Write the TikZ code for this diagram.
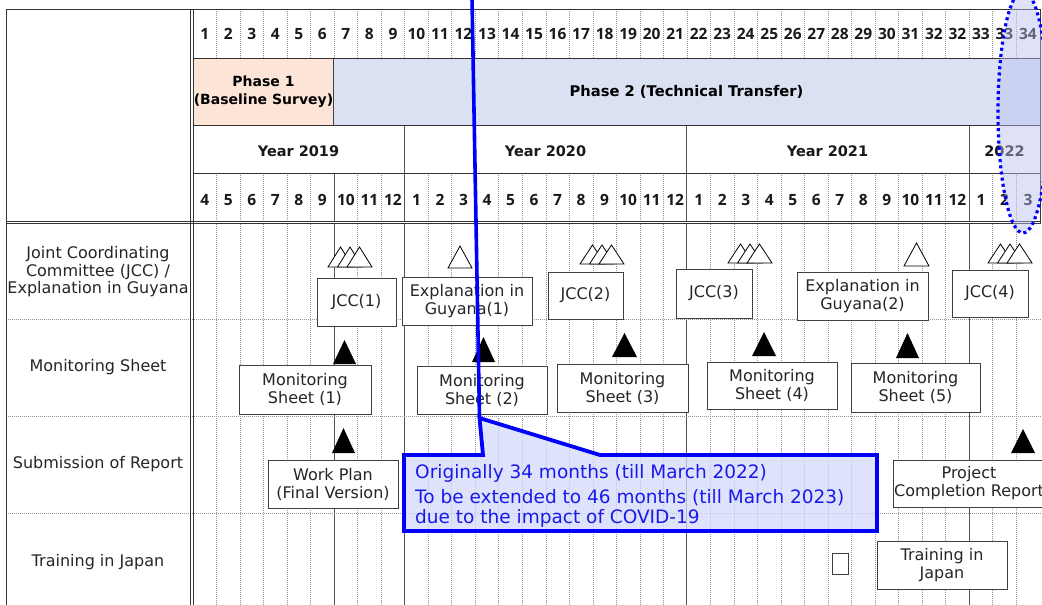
\documentclass[tikz,border=0pt]{standalone}
\usepackage{fontspec}
\setmainfont{DejaVu Sans}
\newfontfamily\numfont{Open Sans}
\definecolor{phaseone}{RGB}{252,228,214}
\definecolor{phasetwo}{RGB}{217,225,242}
\definecolor{ovl}{RGB}{185,190,240}
\definecolor{calloutfill}{RGB}{212,218,250}
\definecolor{cblue}{RGB}{0,0,250}
\definecolor{ctext}{RGB}{25,25,235}
\definecolor{gridc}{RGB}{150,150,150}
\definecolor{solidc}{RGB}{85,85,85}
\newcommand\opentri[4]{\filldraw[fill=white,draw=black,line width=0.8pt,line join=miter] (#1,#3) -- ({(#1+#2)/2},#4) -- (#2,#3) -- cycle;}
\newcommand\tripletri[3]{\opentri{#1}{#1+25}{#2}{#3}\opentri{#1+9.5}{#1+34.5}{#2}{#3}\opentri{#1+19}{#1+44}{#2}{#3}}
\newcommand\blacktri[4]{\fill[black] (#1,#4) -- ({(#1+#2)/2},#3) -- (#2,#4) -- cycle;}
\begin{document}
\begin{tikzpicture}[x=1pt,y=-1pt,
  dotgrid/.style={gridc,line width=0.6pt,dash pattern=on 0.8pt off 1.2pt},
  solidgrid/.style={solidc,line width=0.9pt},
  frame/.style={black!80,line width=0.9pt},
  hdrnum/.style={font=\numfont\fontsize{15.5}{18}\selectfont\bfseries,anchor=base,inner sep=0pt,text=black!90},
  hdryear/.style={font=\fontsize{14.5}{18}\selectfont\bfseries,anchor=base,inner sep=0pt,text=black!90},
  label/.style={font=\fontsize{16}{17.5}\selectfont,align=center,inner sep=0pt,text=black!85},
  box/.style={draw=black!75,fill=white,line width=0.9pt,align=center,inner sep=0pt,
    font=\fontsize{16}{18}\selectfont,text=black!85},
  notetext/.style={font=\fontsize{18.5}{20}\selectfont,text=ctext,anchor=base west,inner sep=0pt}
]
\useasboundingbox[fill=white] (0,0) rectangle (1042,605);
\def\cw{23.52}
% ---------- header phase boxes ----------
\node[draw=black!75,line width=0.9pt,fill=phaseone,minimum width=140pt,minimum height=67pt,inner sep=0pt,
  align=center,font=\fontsize{14}{18}\selectfont\bfseries] (ph1) at (263.5,91.5) {Phase 1\\(Baseline Survey)};
\node[draw=black!75,line width=0.9pt,fill=phasetwo,minimum width=707pt,minimum height=67pt,inner sep=0pt,
  font=\fontsize{14.7}{18}\selectfont\bfseries] (ph2) at (686.5,91.5) {Phase 2 (Technical Transfer)};
% ---------- vertical grid ----------
\foreach \i in {1,2,3,4,5,6,7,8,9,10,11,12,13,14,15,16,17,18,19,20,21,22,23,24,25,26,27,28,29,30,31,32,33,34,35}{
  \draw[dotgrid] ({193+\i*\cw},9) -- ({193+\i*\cw},58);}
\foreach \i in {1,2,3,4,5,7,8,10,11,12,13,14,15,16,17,18,19,20,22,23,24,25,26,27,28,29,30,31,32,34,35}{
  \draw[dotgrid] ({193+\i*\cw},173) -- ({193+\i*\cw},221);
  \draw[dotgrid] ({193+\i*\cw},224) -- ({193+\i*\cw},605);}
\foreach \i in {9,21,33}{
  \draw[solidgrid] ({193+\i*\cw},125) -- ({193+\i*\cw},221);}
\foreach \i in {6,9,21,33}{
  \draw[solidgrid] ({193+\i*\cw},173) -- ({193+\i*\cw},221);
  \draw[solidgrid] ({193+\i*\cw},224) -- ({193+\i*\cw},605);}
% ---------- horizontal lines ----------
\draw[dotgrid] (6,319) -- (1042,319);
\draw[dotgrid] (6,416) -- (1042,416);
\draw[dotgrid] (6,513) -- (1042,513);
\draw[frame] (6,9) -- (1040,9);
\draw[frame] (193,58) -- (1040,58);
\draw[frame] (193,125) -- (1040,125);
\draw[frame] (193,173) -- (1040,173);
\draw[frame] (6,221) -- (1040,221);
\draw[frame] (6,223.8) -- (1040,223.8);
\draw[frame] (6,9) -- (6,605);
\draw[frame] (190,9) -- (190,605);
\draw[frame] (193,9) -- (193,605);
\draw[frame] (1040,9) -- (1040,224);
% ---------- header numbers ----------
\foreach \n [count=\i] in {1,2,3,4,5,6,7,8,9,10,11,12,13,14,15,16,17,18,19,20,21,22,23,24,25,26,27,28,29,30,31,32,32,33,33,34}{
  \node[hdrnum] (n\i) at ({193+(\i-0.5)*\cw},39) {\n};}
\foreach \n [count=\i] in {4,5,6,7,8,9,10,11,12,1,2,3,4,5,6,7,8,9,10,11,12,1,2,3,4,5,6,7,8,9,10,11,12,1,2,3}{
  \node[hdrnum] (m\i) at ({193+(\i-0.5)*\cw},205) {\n};}
\node[hdryear] (y2019) at (298.5,156) {Year 2019};
\node[hdryear] (y2020) at (545.5,156) {Year 2020};
\node[hdryear] (y2021) at (827.5,156) {Year 2021};
\node[hdryear] (y2022) at (1004.5,156) {2022};
% ---------- left labels ----------
\node[label] (l1) at (98,272) {Joint Coordinating\\Committee (JCC) /\\Explanation in Guyana};
\node[label] (l2) at (98,367) {Monitoring Sheet};
\node[label] (l3) at (98,464) {Submission of Report};
\node[label] (l4) at (98,562) {Training in Japan};
% ---------- JCC row ----------
\tripletri{328}{267}{247}
\opentri{448}{472}{268}{246}
\tripletri{580}{264}{245}
\tripletri{728}{263}{244}
\opentri{904}{929}{266}{243}
\tripletri{988}{263}{244}
\node[box,minimum width=79pt,minimum height=48pt] (jcc1) at (356.5,302) {JCC(1)};
\node[box,minimum width=130pt,minimum height=48pt] (ex1) at (467,301) {Explanation in\\Guyana(1)};
\node[box,minimum width=75pt,minimum height=47pt] (jcc2) at (585.5,295.5) {JCC(2)};
\node[box,minimum width=76pt,minimum height=49pt] (jcc3) at (714,293.5) {JCC(3)};
\node[box,minimum width=131pt,minimum height=48pt] (ex2) at (862.5,296) {Explanation in\\Guyana(2)};
\node[box,minimum width=76pt,minimum height=47pt] (jcc4) at (990,293.5) {JCC(4)};
% ---------- Monitoring row ----------
\blacktri{333}{356}{340}{364}
\blacktri{472}{495}{337}{362}
\blacktri{612}{637}{333}{357}
\blacktri{752}{776}{332}{356}
\blacktri{896}{919}{333}{358}
\node[box,minimum width=132pt,minimum height=49pt] (ms1) at (305,389.5) {Monitoring\\Sheet (1)};
\node[box,minimum width=130pt,minimum height=48pt] (ms2) at (482,390) {Monitoring\\Sheet (2)};
\node[box,minimum width=131pt,minimum height=48pt] (ms3) at (622.5,388) {Monitoring\\Sheet (3)};
\node[box,minimum width=130pt,minimum height=47pt] (ms4) at (772,385.5) {Monitoring\\Sheet (4)};
\node[box,minimum width=129pt,minimum height=49pt] (ms5) at (915.5,387.5) {Monitoring\\Sheet (5)};
% ---------- Submission row ----------
\blacktri{332}{355}{428}{453}
\blacktri{1011}{1035}{429}{453}
\node[box,minimum width=130pt,minimum height=48pt] (wp) at (333,484) {Work Plan\\(Final Version)};
\node[box,minimum width=152pt,minimum height=47pt] (pcr) at (969,483.5) {Project\\Completion Report};
% ---------- Training row ----------
\node[box,minimum width=16pt,minimum height=21pt] (sq) at (840,563.5) {};
\node[box,minimum width=130pt,minimum height=48pt] (tij) at (942,565) {Training in\\Japan};
% ---------- 2022 ellipse ----------
\fill[ovl,opacity=0.45] (1023,112) ellipse [x radius=25, y radius=121];
\draw[cblue,line width=3.2pt,dash pattern=on 3pt off 3.2pt] (1023,112) ellipse [x radius=25, y radius=121];
% ---------- callout ----------
\coordinate (top) at (472,-2);
\coordinate (tip) at (479.5,418);
\filldraw[fill=calloutfill,fill opacity=0.75,draw=cblue,line width=3.8pt,line join=miter,miter limit=20]
  (404,455) -- (483,455) -- (tip) -- (600,455) -- (877,455) -- (877,531) -- (404,531) -- cycle;
\draw[cblue,line width=3.6pt] (top) -- (tip);
\node[notetext] (note1) at (415,478) {Originally 34 months (till March 2022)};
\node[notetext] (note2) at (415,503) {To be extended to 46 months (till March 2023)};
\node[notetext] (note3) at (415,523) {due to the impact of COVID-19};
\end{tikzpicture}
\end{document}
